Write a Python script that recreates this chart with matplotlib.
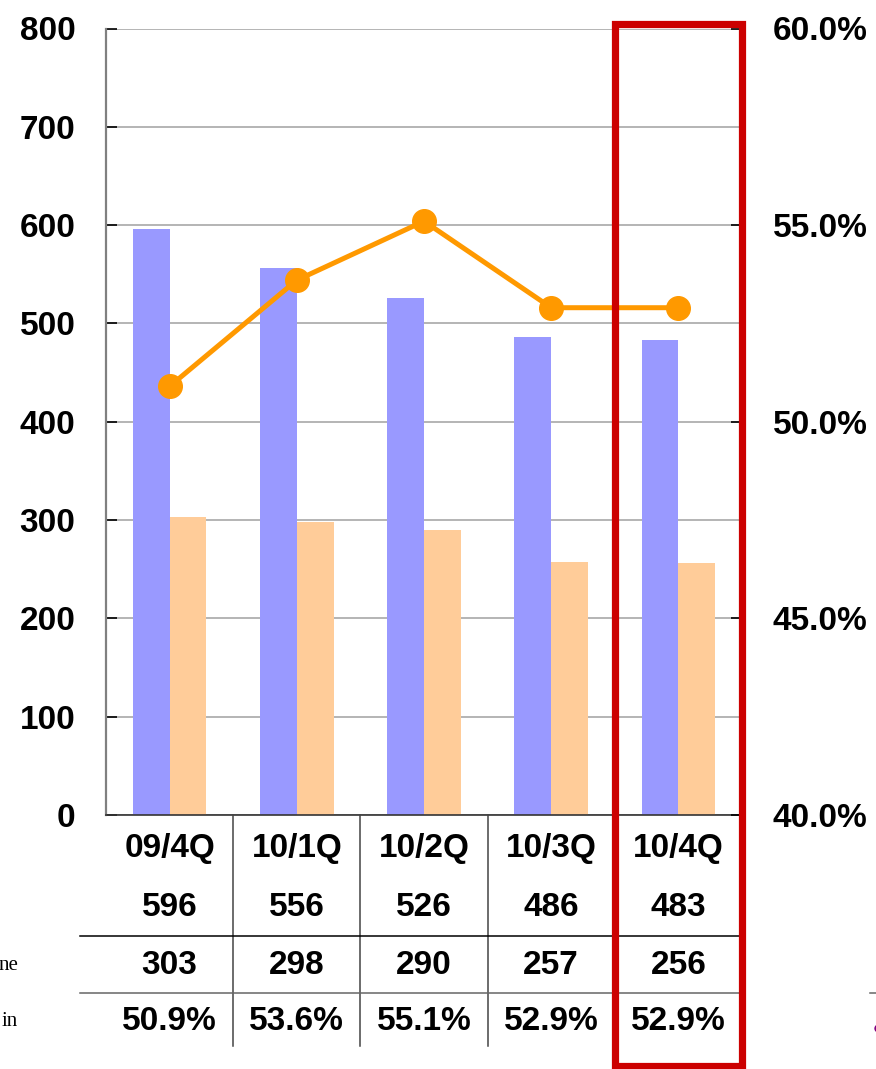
import matplotlib
matplotlib.use("Agg")
import matplotlib.pyplot as plt
from matplotlib.lines import Line2D
from matplotlib.patches import Rectangle
from matplotlib.ticker import FuncFormatter, MultipleLocator
from matplotlib.transforms import blended_transform_factory

plt.rcParams["font.family"] = ["Liberation Sans", "DejaVu Sans"]

quarters = ["09/4Q", "10/1Q", "10/2Q", "10/3Q", "10/4Q"]
sales = [596, 556, 526, 486, 483]
profit = [303, 298, 290, 257, 256]
margin = [50.9, 53.6, 55.1, 52.9, 52.9]
row_names = ["", "ne", "in"]

W, H = 876, 1069
BLUE = "#9999FF"
PEACH = "#FFCC99"
ORANGE = "#FF9900"
RED = "#CC0000"


def fy(py):
    # pixel row -> figure fraction
    return 1 - py / H


fig = plt.figure(figsize=(W / 100, H / 100), dpi=100)
ax = fig.add_axes([106 / W, fy(815), (742 - 106) / W, (815 - 28.5) / H])
ax2 = ax.twinx()

x = list(range(len(quarters)))
bw = 0.29
ax.bar([i - bw / 2 for i in x], sales, width=bw, color=BLUE, zorder=2)
ax.bar([i + bw / 2 for i in x], profit, width=bw, color=PEACH, zorder=2)

ax.set_xlim(-0.5, len(quarters) - 0.5)
ax.set_ylim(0, 800)
ax.yaxis.set_major_locator(MultipleLocator(100))
ax.grid(axis="y", color="#a0a0a0", lw=1.1, zorder=0)
ax.set_axisbelow(True)
ax.set_xticks([])
ax.tick_params(axis="y", direction="in", length=8, width=1.2, pad=22,
               labelsize=24)
for lab in ax.get_yticklabels():
    lab.set_fontweight("bold")
ax.spines["top"].set_visible(False)
ax.spines["left"].set_color("#808080")
ax.spines["left"].set_linewidth(1.6)
ax.spines["bottom"].set_color("#333333")
ax.spines["bottom"].set_linewidth(1.2)

ax2.plot(x, margin, color=ORANGE, lw=3.6, marker="o", ms=17, zorder=3)
ax2.set_ylim(40, 60)
ax2.yaxis.set_major_locator(MultipleLocator(5))
ax2.yaxis.set_major_formatter(FuncFormatter(lambda v, _: f"{v:.1f}%"))
ax2.tick_params(axis="y", direction="in", length=8, width=1.2, pad=22,
                labelsize=24)
for lab in ax2.get_yticklabels():
    lab.set_fontweight("bold")
ax2.spines["top"].set_visible(False)
ax2.spines["left"].set_visible(False)
ax2.spines["bottom"].set_visible(False)
ax2.spines["right"].set_color("black")
ax2.spines["right"].set_linewidth(1.2)

# data table under the chart
tr = blended_transform_factory(ax.transData, fig.transFigure)
row_y = [908, 965, 1022]
rows = [[str(v) for v in sales], [str(v) for v in profit],
        [f"{v:.1f}%" for v in margin]]
for i, q in enumerate(quarters):
    fig.text(i, fy(848), q, transform=tr, ha="center", va="center",
             fontsize=24, fontweight="bold")
    for py, vals in zip(row_y, rows):
        fig.text(i, fy(py), vals[i], transform=tr, ha="center", va="center",
                 fontsize=24, fontweight="bold")

for b in [0.5, 1.5, 2.5, 3.5]:
    fig.add_artist(Line2D([b, b], [fy(815), fy(1046)], transform=tr,
                          color="#444444", lw=1.1))
fig.add_artist(Line2D([80 / W, 740 / W], [fy(936), fy(936)],
                      transform=fig.transFigure, color="black", lw=1.1))
fig.add_artist(Line2D([80 / W, 740 / W], [fy(993), fy(993)],
                      transform=fig.transFigure, color="#666666", lw=1.1))

for name, py in zip(row_names, row_y):
    fig.text(18 / W, fy(py), name, ha="right", va="center", fontsize=15,
             family=["Liberation Serif", "DejaVu Serif"])

# stray legend bits at the right edge
fig.add_artist(Line2D([870 / W, 1.0], [fy(993), fy(993)],
                      transform=fig.transFigure, color="#666666", lw=1.1))
fig.add_artist(Line2D([878 / W], [fy(1028)], transform=fig.transFigure,
                      marker="o", ms=5, color="#800080", lw=0))

# highlight box around the latest quarter
fig.add_artist(Rectangle((3.5, fy(1066)), 1.0, fy(24) - fy(1066),
                         transform=tr, fill=False, edgecolor=RED, lw=5.2,
                         zorder=5))

fig.savefig("out.png", dpi=100)
